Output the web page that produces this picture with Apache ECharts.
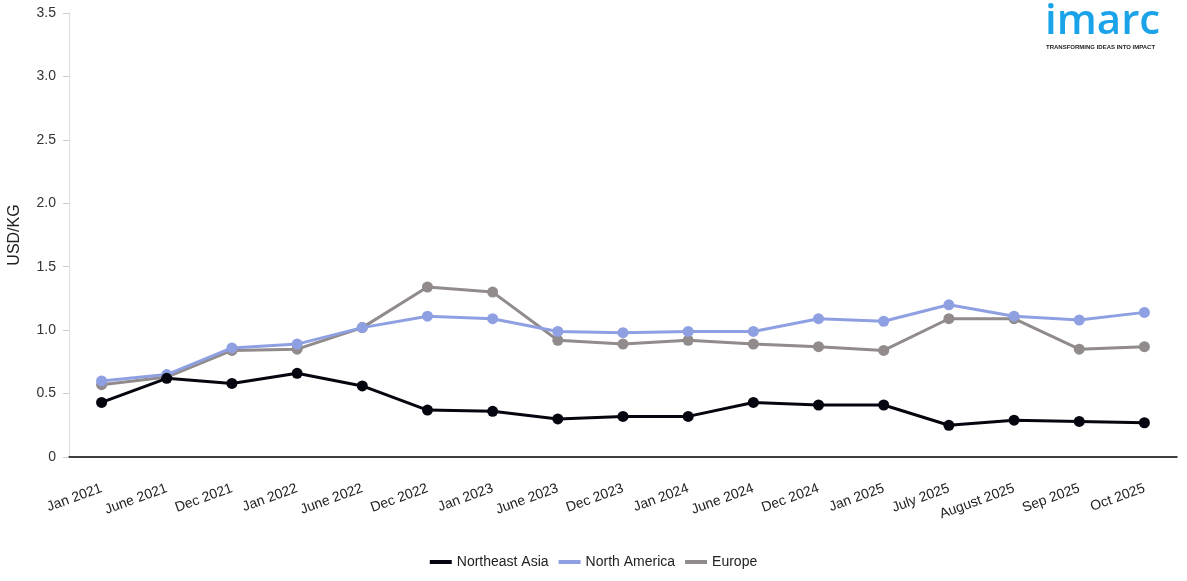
<!DOCTYPE html>
<html><head><meta charset="utf-8">
<script src="https://cdn.jsdelivr.net/npm/echarts@6/dist/echarts.min.js"></script>
<style>html,body{margin:0;padding:0;background:#fff}#c{width:1187px;height:581px}</style>
</head><body><div id="c"></div>
<script>
const categories = ["Jan 2021","June 2021","Dec 2021","Jan 2022","June 2022","Dec 2022","Jan 2023","June 2023","Dec 2023","Jan 2024","June 2024","Dec 2024","Jan 2025","July 2025","August 2025","Sep 2025","Oct 2025"];
const northeastAsia = [0.43,0.62,0.58,0.66,0.56,0.37,0.36,0.30,0.32,0.32,0.43,0.41,0.41,0.25,0.29,0.28,0.27];
const northAmerica = [0.60,0.65,0.86,0.89,1.02,1.11,1.09,0.99,0.98,0.99,0.99,1.09,1.07,1.20,1.11,1.08,1.14];
const europe = [0.57,0.63,0.84,0.85,1.02,1.34,1.30,0.92,0.89,0.92,0.89,0.87,0.84,1.09,1.09,0.85,0.87];
const yTicks = ["0","0.5","1.0","1.5","2.0","2.5","3.0","3.5"];

const font = "Liberation Sans, Arial, sans-serif";
function mk(name, data, color, z) {
  return {name, type:'line', data, z, color,
    symbol:'circle', symbolSize:11, lineStyle:{width:3, color}, itemStyle:{color}};
}
const chart = echarts.init(document.getElementById('c'), null, {renderer:'canvas'});
chart.setOption({
  animation:false,
  textStyle:{fontFamily:font},
  grid:{left:69, right:10, top:13, bottom:124, containLabel:false, outerBoundsMode:'none'},
  xAxis:{type:'category', data:categories, boundaryGap:true,
    axisLine:{lineStyle:{color:'#000', width:1.5}},
    axisTick:{alignWithLabel:true, length:8, lineStyle:{color:'#000'}},
    axisLabel:{rotate:20, color:'#222', fontSize:14, margin:31, interval:0, fontFamily:font}},
  yAxis:{type:'value', min:0, max:3.5, interval:0.5,
    name:'USD/KG', nameLocation:'middle', nameGap:46, nameRotate:90,
    nameTextStyle:{fontSize:16, color:'#222', fontFamily:font},
    axisLine:{show:true, lineStyle:{color:'#ddd'}},
    axisTick:{show:true, length:6, lineStyle:{color:'#ccc'}},
    splitLine:{show:false},
    axisLabel:{color:'#333', fontSize:14, margin:13, fontFamily:font,
      formatter:(v)=>yTicks[Math.round(v/0.5)]}},
  legend:{bottom:7, left:'center', itemWidth:22, itemHeight:4, itemGap:10,
    icon:'rect', textStyle:{fontSize:14, color:'#222', fontFamily:font},
    data:['Northeast Asia','North America','Europe']},
  graphic:[
    {type:'text', left:1045, top:1, style:{text:'imarc', font:'600 42px "Open Sans", Lato, sans-serif', fill:'#1aa3e8'}},
    {type:'text', left:1046, top:44, style:{text:'TRANSFORMING IDEAS INTO IMPACT', font:'bold 6px "Liberation Sans", Arial, sans-serif', fill:'#222'}}
  ],
  series:[
    mk('Europe', europe, '#918b8b', 1),
    mk('North America', northAmerica, '#8fa0e2', 2),
    mk('Northeast Asia', northeastAsia, '#050510', 3)
  ]
});
</script></body></html>
